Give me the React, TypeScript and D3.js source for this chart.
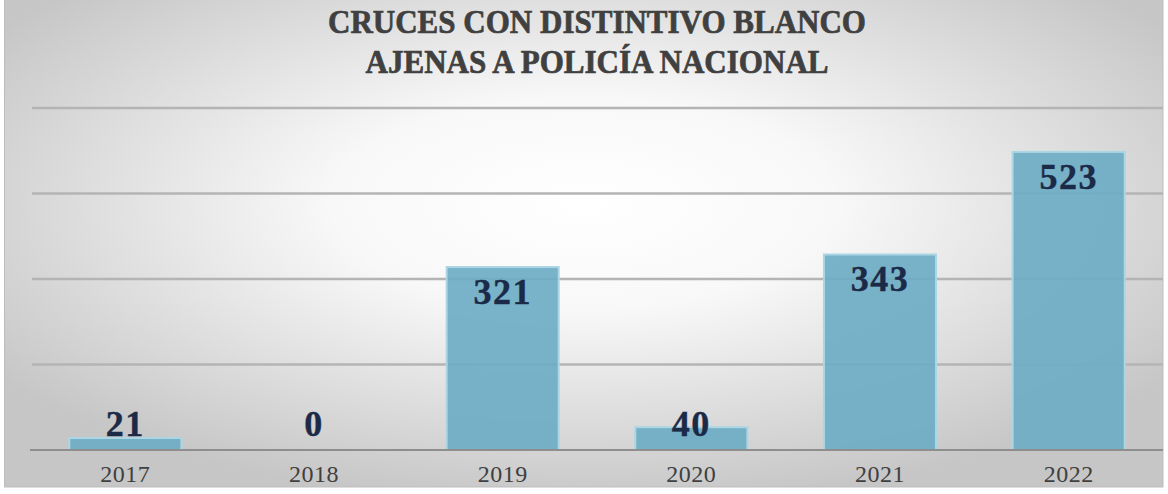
import React from "react";
import * as d3 from "d3";

const categories = ["2017", "2018", "2019", "2020", "2021", "2022"];
const values = [21, 0, 321, 40, 343, 523];
const yTicks = [0, 150, 300, 450, 600];
const titleLines = ["CRUCES CON DISTINTIVO BLANCO", "AJENAS A POLICÍA NACIONAL"];

const W = 1168;
const H = 494;

export default function App() {
  const x = d3
    .scaleBand<string>()
    .domain(categories)
    .range([31, 1163])
    .paddingInner(0.406)
    .paddingOuter(0.203);
  const y = d3.scaleLinear().domain([0, 600]).range([450, 108]);
  const y0 = y(0);

  return (
    <svg
      width={W}
      height={H}
      style={{ position: "absolute", left: 0, top: 0, display: "block" }}
    >
      <defs>
        <radialGradient id="bg" cx="0.5" cy="0.42" r="0.62">
          <stop offset="0" stopColor="#ffffff" />
          <stop offset="0.35" stopColor="#f8f8f8" />
          <stop offset="1" stopColor="#c6c6c6" />
        </radialGradient>
      </defs>
      <rect x={0} y={0} width={W} height={H} fill="#ffffff" />
      <rect x={4.5} y={-1} width={1158.5} height={488} fill="url(#bg)" stroke="#bdbdbd" strokeWidth={1} />

      {yTicks
        .filter((t) => t > 0)
        .map((t) => (
          <line
            key={t}
            x1={32}
            x2={1163}
            y1={y(t)}
            y2={y(t)}
            stroke="#b4b4b4"
            strokeWidth={2.5}
          />
        ))}

      {values.map((v, i) => (
        <rect
          key={categories[i]}
          x={x(categories[i])!}
          y={y(v)}
          width={x.bandwidth()}
          height={y0 - y(v)}
          fill="#6eacc5"
          fillOpacity={0.92}
          stroke="#acd6e4"
          strokeWidth={2}
          style={{ display: v > 0 ? "block" : "none" }}
        />
      ))}

      <line x1={30} x2={1163} y1={y0} y2={y0} stroke="#8e8e8e" strokeWidth={2} />

      {values.map((v, i) => (
        <text
          key={"l" + i}
          x={x(categories[i])! + x.bandwidth() / 2}
          y={Math.min(y(v) + 37, y0 - 14)}
          textAnchor="middle"
          fontFamily="'Liberation Serif', serif"
          fontWeight="bold"
          fontSize={36}
          letterSpacing={1.5}
          fill="#1b2a47"
          stroke="#1b2a47"
          strokeWidth={0.4}
        >
          {v}
        </text>
      ))}

      {categories.map((c) => (
        <text
          key={"x" + c}
          x={x(c)! + x.bandwidth() / 2}
          y={482}
          textAnchor="middle"
          fontFamily="'Liberation Serif', serif"
          fontSize={24}
          letterSpacing={0.5}
          fill="#404040"
        >
          {c}
        </text>
      ))}

      <text
        x={597}
        y={33}
        textAnchor="middle"
        fontFamily="'Liberation Serif', serif"
        fontWeight="bold"
        fontSize={34}
        fill="#404040"
        stroke="#404040"
        strokeWidth={0.7}
        textLength={538}
        lengthAdjust="spacingAndGlyphs"
      >
        {titleLines[0]}
      </text>
      <text
        x={597}
        y={73}
        textAnchor="middle"
        fontFamily="'Liberation Serif', serif"
        fontWeight="bold"
        fontSize={34}
        fill="#404040"
        stroke="#404040"
        strokeWidth={0.7}
        textLength={463}
        lengthAdjust="spacingAndGlyphs"
      >
        {titleLines[1]}
      </text>
    </svg>
  );
}
